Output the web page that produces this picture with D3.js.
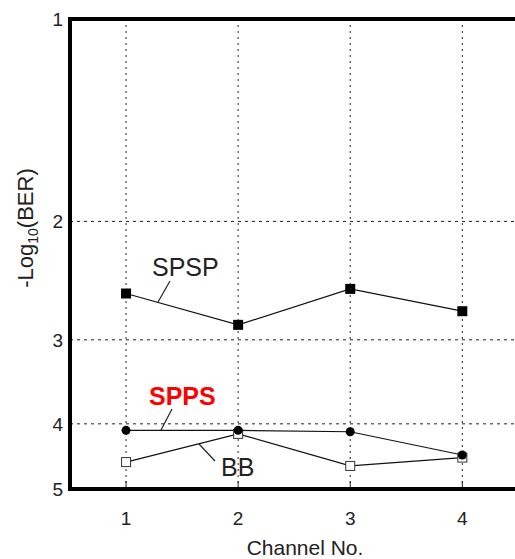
<!DOCTYPE html>
<html>
<head>
<meta charset="utf-8">
<script src="https://cdn.jsdelivr.net/npm/d3@7"></script>
<style>
  body { margin: 0; background: #fff; }
  text { font-family: "Liberation Sans", Arial, sans-serif; fill: #222; }
</style>
</head>
<body>
<svg id="chart"></svg>
<script>
// channel numbers and -log10(BER) values
const channels = [1, 2, 3, 4];
const spsp = [2.56, 2.85, 2.52, 2.72];
const spps = [4.09, 4.09, 4.11, 4.45];
const bb = [4.56, 4.14, 4.62, 4.49];
const yTicks = [1, 2, 3, 4, 5];

const w = 515;
const h = 559;

const x = d3.scaleLinear().domain([0.5, 4.47]).range([70, 515]);
const y = d3.scaleLog().domain([1, 5]).range([19, 489]);

const svg = d3.select("#chart").attr("width", w).attr("height", h);

// grid
svg.append("g")
  .selectAll("line")
  .data(yTicks.slice(1, 4))
  .enter()
  .append("line")
  .attr("x1", 70).attr("x2", 515)
  .attr("y1", d => y(d)).attr("y2", d => y(d))
  .attr("stroke", "#222")
  .attr("stroke-width", 1)
  .attr("stroke-dasharray", "3,4");

svg.append("g")
  .selectAll("line")
  .data(channels)
  .enter()
  .append("line")
  .attr("x1", d => x(d)).attr("x2", d => x(d))
  .attr("y1", 19).attr("y2", 489)
  .attr("stroke", "#222")
  .attr("stroke-width", 1)
  .attr("stroke-dasharray", "2,4");

// inward ticks on bottom axis
svg.append("g")
  .selectAll("line")
  .data(channels)
  .enter()
  .append("line")
  .attr("x1", d => x(d)).attr("x2", d => x(d))
  .attr("y1", 481).attr("y2", 489)
  .attr("stroke", "#222");

// frame
svg.append("path")
  .attr("d", "M515,19H70V489H515")
  .attr("fill", "none")
  .attr("stroke", "#000")
  .attr("stroke-width", 4);

// tick labels
svg.append("g")
  .selectAll("text")
  .data(yTicks)
  .enter()
  .append("text")
  .attr("x", 63)
  .attr("y", d => y(d) + 7)
  .attr("text-anchor", "end")
  .attr("font-size", 19)
  .text(d => d);

svg.append("g")
  .selectAll("text")
  .data(channels)
  .enter()
  .append("text")
  .attr("x", d => x(d))
  .attr("y", 525)
  .attr("text-anchor", "middle")
  .attr("font-size", 19)
  .text(d => d);

svg.append("text")
  .attr("x", 305)
  .attr("y", 555)
  .attr("text-anchor", "middle")
  .attr("font-size", 21)
  .text("Channel No.");

const yl = svg.append("text")
  .attr("transform", "translate(33,228) rotate(-90)")
  .attr("text-anchor", "middle")
  .attr("font-size", 22);
yl.append("tspan").text("-Log");
yl.append("tspan").attr("font-size", 14).attr("dy", 5).text("10");
yl.append("tspan").attr("dy", -5).text("(BER)");

// series
const line = d3.line().x((d, i) => x(channels[i])).y(d => y(d));

const drawLine = vals => svg.append("path")
  .attr("d", line(vals))
  .attr("fill", "none")
  .attr("stroke", "#111")
  .attr("stroke-width", 1.2);

drawLine(bb);
drawLine(spps);
drawLine(spsp);

svg.append("g")
  .selectAll("rect")
  .data(bb)
  .enter()
  .append("rect")
  .attr("x", (d, i) => x(channels[i]) - 4.5)
  .attr("y", d => y(d) - 4.5)
  .attr("width", 9).attr("height", 9)
  .attr("fill", "#fff")
  .attr("stroke", "#333")
  .attr("stroke-width", 1);

svg.append("g")
  .selectAll("circle")
  .data(spps)
  .enter()
  .append("circle")
  .attr("cx", (d, i) => x(channels[i]))
  .attr("cy", d => y(d))
  .attr("r", 4.5)
  .attr("fill", "#000");

svg.append("g")
  .selectAll("rect")
  .data(spsp)
  .enter()
  .append("rect")
  .attr("x", (d, i) => x(channels[i]) - 5)
  .attr("y", d => y(d) - 5)
  .attr("width", 10).attr("height", 10)
  .attr("fill", "#000");

// labels with leader lines
const leader = (x1, y1, x2, y2) => svg.append("line")
  .attr("x1", x1).attr("y1", y1).attr("x2", x2).attr("y2", y2)
  .attr("stroke", "#222").attr("stroke-width", 1.2);

svg.append("text").attr("x", 152).attr("y", 276).attr("font-size", 25).text("SPSP");
leader(170, 281, 158, 302);

svg.append("text").attr("x", 149).attr("y", 405).attr("font-size", 25)
  .attr("font-weight", "bold").style("fill", "#f00").text("SPPS");
leader(172, 409, 161, 430);

svg.append("text").attr("x", 221).attr("y", 476).attr("font-size", 25).text("BB");
leader(215, 461, 199, 444);
</script>
</body>
</html>
